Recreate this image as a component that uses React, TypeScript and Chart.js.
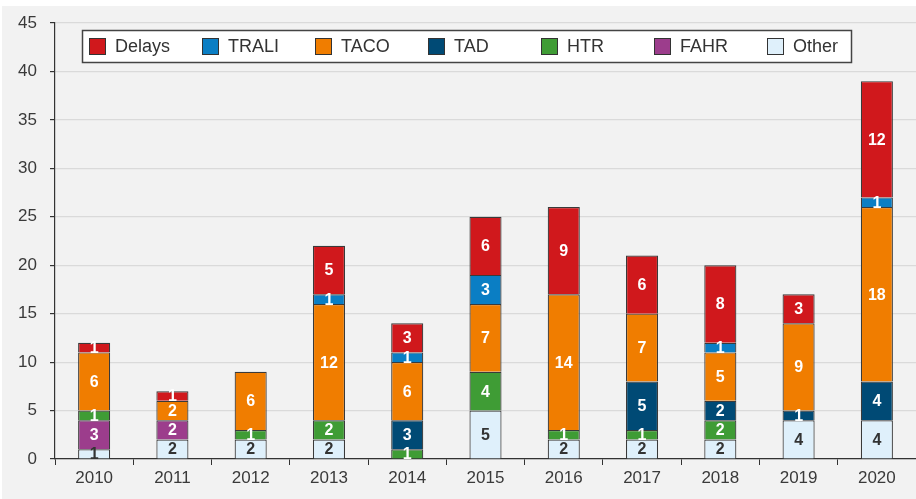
import React, { useEffect, useRef } from "react";
import { Chart, registerables } from "chart.js";

Chart.register(...registerables);

const years = ["2010", "2011", "2012", "2013", "2014", "2015", "2016", "2017", "2018", "2019", "2020"];
const other = [1, 2, 2, 2, 0, 5, 2, 2, 2, 4, 4];
const fahr = [3, 2, 0, 0, 0, 0, 0, 0, 0, 0, 0];
const htr = [1, 0, 1, 2, 1, 4, 1, 1, 2, 0, 0];
const tad = [0, 0, 0, 0, 3, 0, 0, 5, 2, 1, 4];
const taco = [6, 2, 6, 12, 6, 7, 14, 7, 5, 9, 18];
const trali = [0, 0, 0, 1, 1, 3, 0, 0, 1, 0, 1];
const delays = [1, 1, 0, 5, 3, 6, 9, 6, 8, 3, 12];
const yTicks = [0, 5, 10, 15, 20, 25, 30, 35, 40, 45];

const FONT = "'Liberation Sans', Arial, Helvetica, sans-serif";
const BORDER = "#3a3a3a";

const seriesDefs = [
  { label: "Other", data: other, color: "#dff0fb", text: "#333333" },
  { label: "FAHR", data: fahr, color: "#9c3d8c", text: "#ffffff" },
  { label: "HTR", data: htr, color: "#3f9c35", text: "#ffffff" },
  { label: "TAD", data: tad, color: "#004a75", text: "#ffffff" },
  { label: "TACO", data: taco, color: "#f07d00", text: "#ffffff" },
  { label: "TRALI", data: trali, color: "#0a7ec4", text: "#ffffff" },
  { label: "Delays", data: delays, color: "#d0181c", text: "#ffffff" },
];

const valueLabels = {
  id: "valueLabels",
  afterDatasetsDraw(chart: any) {
    const ctx = chart.ctx;
    ctx.save();
    ctx.font = `bold 16px ${FONT}`;
    ctx.textAlign = "center";
    ctx.textBaseline = "middle";
    chart.data.datasets.forEach((ds: any, di: number) => {
      const meta = chart.getDatasetMeta(di);
      meta.data.forEach((el: any, i: number) => {
        const v = ds.data[i];
        if (!v) return;
        ctx.fillStyle = ds.textColor;
        ctx.fillText(String(v), el.x, (el.y + el.base) / 2 + 1);
      });
    });
    ctx.restore();
  },
};

const boxLegend = {
  id: "boxLegend",
  afterDraw(chart: any, _args: any, opts: any) {
    const ctx = chart.ctx;
    const ca = chart.chartArea;
    const x0 = ca.left + opts.offsetX;
    const y0 = ca.top + opts.offsetY;
    ctx.save();
    ctx.fillStyle = "#ffffff";
    ctx.fillRect(x0, y0, opts.width, opts.height);
    ctx.strokeStyle = "#444444";
    ctx.lineWidth = 1.5;
    ctx.strokeRect(x0 + 0.5, y0 + 0.5, opts.width, opts.height);
    const items = [...chart.data.datasets].reverse();
    const cy = y0 + opts.height / 2 + 0.5;
    ctx.font = `18px ${FONT}`;
    ctx.textBaseline = "middle";
    ctx.textAlign = "left";
    items.forEach((ds: any, i: number) => {
      const bx = x0 + opts.inset + i * opts.slot;
      ctx.fillStyle = ds.backgroundColor;
      ctx.fillRect(bx, cy - 8.5, 17, 17);
      ctx.strokeStyle = "#333333";
      ctx.lineWidth = 1;
      ctx.strokeRect(bx + 0.5, cy - 8, 16, 16);
      ctx.fillStyle = "#333333";
      ctx.fillText(ds.label, bx + 26, cy + 1);
    });
    ctx.restore();
  },
};

export default function App() {
  const ref = useRef<HTMLCanvasElement>(null);

  useEffect(() => {
    document.body.style.margin = "0";
    const canvas = ref.current!;
    const chart = new Chart(canvas, {
      type: "bar",
      data: {
        labels: years,
        datasets: seriesDefs.map((s) => ({
          label: s.label,
          data: s.data.map((v) => (v ? v : null)),
          backgroundColor: s.color,
          borderColor: BORDER,
          borderWidth: 1.2,
          textColor: s.text,
          barPercentage: 0.41,
          categoryPercentage: 1,
        })) as any,
      },
      options: {
        animation: false,
        responsive: false,
        maintainAspectRatio: false,
        layout: { padding: { top: 17, right: 0, left: 0, bottom: 0 } },
        plugins: {
          legend: { display: false },
          tooltip: { enabled: false },
          boxLegend: { offsetX: 27, offsetY: 7, width: 769, height: 32, inset: 7, slot: 113 },
        } as any,
        scales: {
          x: {
            stacked: true,
            grid: {
              offset: true,
              drawOnChartArea: false,
              drawTicks: true,
              tickLength: 6,
              tickColor: "#333333",
            },
            border: { color: "#333333", width: 1.2 },
            ticks: {
              color: "#3a3a3a",
              font: { size: 17, family: FONT },
              padding: 3,
              maxRotation: 0,
            },
            afterFit(scale: any) {
              scale.height = 40;
              scale.paddingLeft = 0;
              scale.paddingRight = 0;
            },
          },
          y: {
            stacked: true,
            min: 0,
            max: 45,
            afterBuildTicks(scale: any) {
              scale.ticks = yTicks.map((v) => ({ value: v }));
            },
            grid: {
              color: "#dadada",
              lineWidth: 1.2,
              drawTicks: true,
              tickLength: 5,
              tickColor: "#333333",
            },
            border: { color: "#333333", width: 1.2 },
            ticks: {
              color: "#3a3a3a",
              font: { size: 17, family: FONT },
              padding: 13,
            },
            afterFit(scale: any) {
              scale.width = 53;
              scale.paddingTop = 0;
              scale.paddingBottom = 0;
            },
          },
        },
      },
      plugins: [valueLabels, boxLegend],
    });
    return () => chart.destroy();
  }, []);

  return (
    <div style={{ position: "absolute", left: 0, top: 0, width: 916, height: 499, background: "#ffffff" }}>
      <canvas
        ref={ref}
        width={914}
        height={493}
        style={{ position: "absolute", left: 2, top: 6, width: 914, height: 493, background: "#f2f2f2" }}
      />
    </div>
  );
}
